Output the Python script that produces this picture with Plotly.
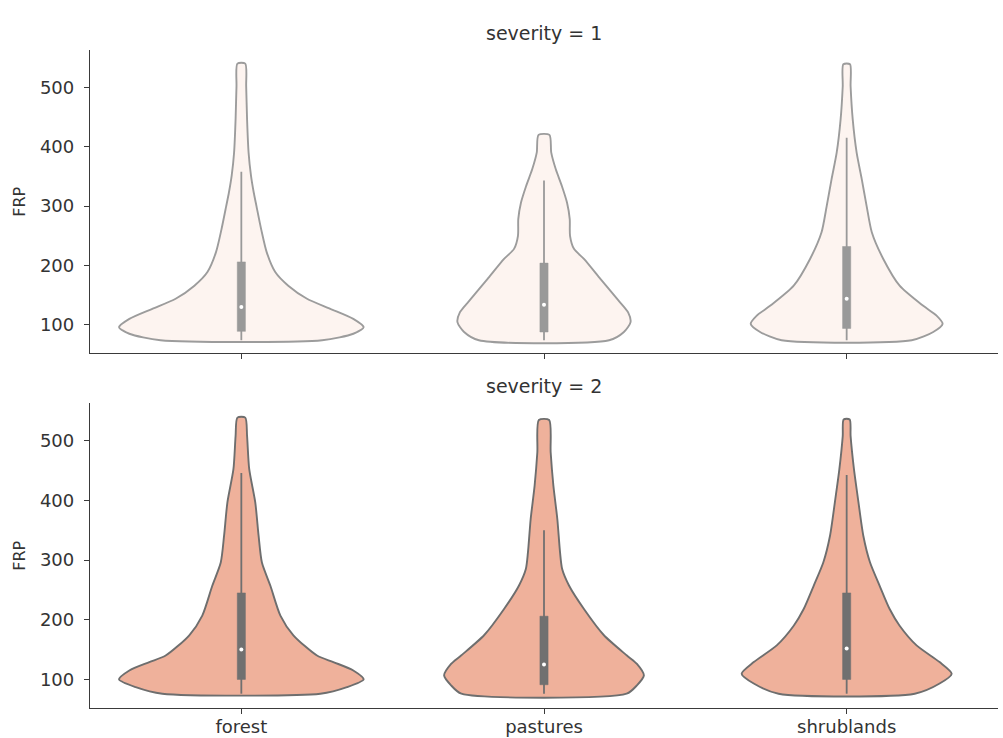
import plotly.graph_objects as go

categories = ["forest", "pastures", "shrublands"]
severity_levels = [1, 2]

# Violin profiles: FRP level and the violin half-width at that level (category units)
s1_forest_frp = [74, 85, 96, 110, 127, 144, 166, 189, 222, 260, 300, 323, 351, 390, 446, 502, 540]
s1_forest_hw = [0.267, 0.370, 0.404, 0.370, 0.294, 0.217, 0.155, 0.112, 0.084, 0.066, 0.050, 0.041, 0.032, 0.024, 0.019, 0.016, 0.013]

s1_pastures_frp = [74, 88, 104.5, 121, 144, 177, 211, 228, 250, 278, 306, 334, 362, 390, 420]
s1_pastures_hw = [0.215, 0.264, 0.286, 0.278, 0.241, 0.187, 0.132, 0.099, 0.086, 0.085, 0.076, 0.059, 0.039, 0.024, 0.018]

s1_shrublands_frp = [74, 88, 101.7, 115.6, 132, 166, 211, 256, 300, 345, 390, 446, 502, 539]
s1_shrublands_hw = [0.215, 0.286, 0.317, 0.297, 0.253, 0.175, 0.121, 0.083, 0.066, 0.050, 0.033, 0.020, 0.013, 0.011]

s2_forest_frp = [76, 87, 100, 115, 129, 140, 174, 207, 257, 296, 341, 397, 453, 508, 539]
s2_forest_hw = [0.261, 0.349, 0.404, 0.370, 0.304, 0.250, 0.172, 0.129, 0.096, 0.068, 0.057, 0.046, 0.026, 0.019, 0.013]

s2_pastures_frp = [76, 90, 106.7, 126, 140, 174, 218, 257, 285, 313, 369, 425, 481, 535]
s2_pastures_hw = [0.273, 0.307, 0.330, 0.307, 0.274, 0.198, 0.132, 0.083, 0.060, 0.053, 0.044, 0.031, 0.022, 0.017]

s2_shrublands_frp = [76, 93, 109.5, 129, 157, 190, 218, 257, 296.5, 341, 397, 453, 508, 536]
s2_shrublands_hw = [0.225, 0.307, 0.347, 0.307, 0.231, 0.175, 0.142, 0.109, 0.077, 0.055, 0.039, 0.024, 0.013, 0.010]

# Inner box statistics per category
s1_min = [74, 74, 74]
s1_q1 = [89, 88, 94]
s1_median = [130, 134, 144]
s1_q3 = [206, 204, 232]
s1_whisker_hi = [358, 343, 415]

s2_min = [76, 76, 76]
s2_q1 = [100, 91, 100]
s2_median = [150, 125, 152]
s2_q3 = [245, 206, 245]
s2_whisker_hi = [446, 350, 443]

y_ticks = [100, 200, 300, 400, 500]

BOX_HALF = 0.0135  # half-width of the inner box, category units

panels = [
    dict(
        sev=1, xa="x", ya="y",
        profiles=[(s1_forest_frp, s1_forest_hw), (s1_pastures_frp, s1_pastures_hw),
                  (s1_shrublands_frp, s1_shrublands_hw)],
        mins=s1_min, q1=s1_q1, med=s1_median, q3=s1_q3, hi=s1_whisker_hi,
        fill="#fdf4f0", edge="#9c9c9c", box="#999999",
    ),
    dict(
        sev=2, xa="x2", ya="y2",
        profiles=[(s2_forest_frp, s2_forest_hw), (s2_pastures_frp, s2_pastures_hw),
                  (s2_shrublands_frp, s2_shrublands_hw)],
        mins=s2_min, q1=s2_q1, med=s2_median, q3=s2_q3, hi=s2_whisker_hi,
        fill="#efb19b", edge="#6e6e6e", box="#707070",
    ),
]

fig = go.Figure()

for p in panels:
    for i, (frp, hw) in enumerate(p["profiles"]):
        xs = [i + w for w in hw] + [i - w for w in reversed(hw)] + [i + hw[0]]
        ys = list(frp) + list(reversed(frp)) + [frp[0]]
        fig.add_trace(go.Scatter(
            x=xs, y=ys, mode="lines", fill="toself", fillcolor=p["fill"],
            line=dict(color=p["edge"], width=1.9, shape="spline", smoothing=0.7),
            xaxis=p["xa"], yaxis=p["ya"], hoverinfo="skip", showlegend=False,
        ))
        # whisker
        fig.add_trace(go.Scatter(
            x=[i, i], y=[p["mins"][i], p["hi"][i]], mode="lines",
            line=dict(color=p["box"], width=1.8),
            xaxis=p["xa"], yaxis=p["ya"], showlegend=False,
        ))
        # interquartile box
        q1, q3 = p["q1"][i], p["q3"][i]
        fig.add_trace(go.Scatter(
            x=[i - BOX_HALF, i + BOX_HALF, i + BOX_HALF, i - BOX_HALF, i - BOX_HALF],
            y=[q1, q1, q3, q3, q1], mode="lines", fill="toself",
            fillcolor=p["box"], line=dict(color=p["box"], width=0.5),
            xaxis=p["xa"], yaxis=p["ya"], showlegend=False,
        ))
        # median
        fig.add_trace(go.Scatter(
            x=[i], y=[p["med"][i]], mode="markers",
            marker=dict(color="white", size=4, line=dict(width=0)),
            xaxis=p["xa"], yaxis=p["ya"], showlegend=False,
        ))

axis_common = dict(
    showline=True, linecolor="#3a3a3a", linewidth=1.3, showgrid=False, zeroline=False,
    ticks="outside", ticklen=5, tickwidth=1.2, tickcolor="#3a3a3a", automargin=False,
    tickfont=dict(family="DejaVu Sans", size=18, color="#333333"),
)

fig.update_layout(
    width=1003, height=738,
    margin=dict(l=90, r=5, t=50, b=30),
    paper_bgcolor="white", plot_bgcolor="white",
    xaxis=dict(axis_common, domain=[0, 1], range=[-0.5, 2.5], anchor="y",
               tickvals=[0, 1, 2], showticklabels=False),
    yaxis=dict(axis_common, domain=[0.539, 1.0], range=[52, 563], anchor="x",
               tickvals=y_ticks, ticklabelstandoff=6),
    xaxis2=dict(axis_common, domain=[0, 1], range=[-0.5, 2.5], anchor="y2",
                tickvals=[0, 1, 2], ticktext=categories, ticklabelstandoff=-3),
    yaxis2=dict(axis_common, domain=[0, 0.463], range=[52, 563], anchor="x2",
                tickvals=y_ticks, ticklabelstandoff=6),
)

title_font = dict(family="DejaVu Sans", size=19, color="#333333")
for p, ytitle in zip(panels, [1.026, 0.489]):
    fig.add_annotation(
        text=f"severity = {p['sev']}", xref="paper", yref="paper",
        x=0.5, y=ytitle, xanchor="center", yanchor="middle",
        showarrow=False, font=title_font,
    )
    fig.add_annotation(
        text="FRP", xref="paper", yref=f"{p['ya']} domain",
        x=-0.077, y=0.5, xanchor="center", yanchor="middle", textangle=-90,
        showarrow=False, font=dict(family="DejaVu Sans", size=16, color="#333333"),
    )

fig.write_html("out.html")
